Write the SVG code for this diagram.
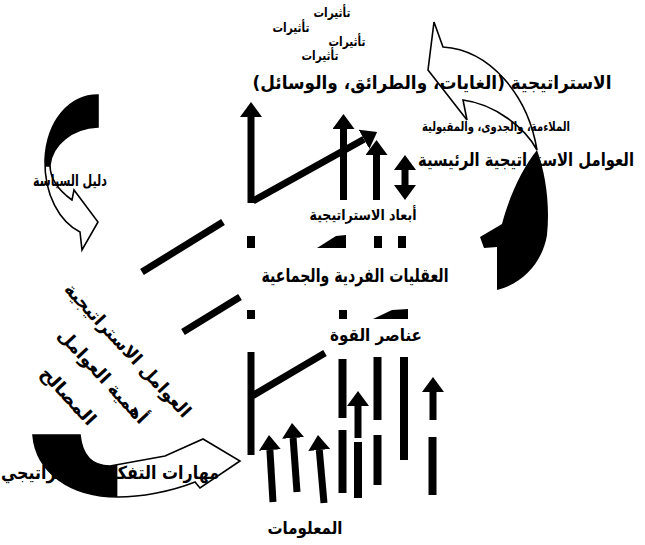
<svg xmlns="http://www.w3.org/2000/svg" width="645" height="545" viewBox="0 0 645 545">
<defs>
<style>
.t{font-family:'DejaVu Sans','Noto Sans',sans-serif;font-weight:bold;fill:#000;direction:rtl;text-anchor:middle}
.sh{stroke:#000;stroke-width:7;fill:none;stroke-linecap:butt}
.bar{stroke:#000;stroke-width:8;fill:none}
.blk{fill:#000}
.carrow{stroke:#000;stroke-width:1.6;stroke-linejoin:miter}
</style>
<marker id="ah" viewBox="0 -11 16 22" refX="0" refY="0" markerWidth="16" markerHeight="22" markerUnits="userSpaceOnUse" orient="auto-start-reverse">
<path d="M0,-11 L15,0 L0,11 Z" fill="#000"/>
</marker>
<linearGradient id="gLeft" gradientUnits="userSpaceOnUse" x1="0" y1="95" x2="0" y2="250">
<stop offset="0" stop-color="#000"/><stop offset="0.46" stop-color="#000"/><stop offset="0.465" stop-color="#fff"/><stop offset="1" stop-color="#fff"/>
</linearGradient>
<linearGradient id="gBottom" gradientUnits="userSpaceOnUse" x1="33" y1="0" x2="240" y2="0">
<stop offset="0" stop-color="#000"/><stop offset="0.405" stop-color="#000"/><stop offset="0.41" stop-color="#fff"/><stop offset="1" stop-color="#fff"/>
</linearGradient>
</defs>
<rect width="645" height="545" fill="#fff"/>

<g id="curved-arrow-right">
<path class="carrow" fill="#fff" d="M434,22 L443,47 C490,50 528,95 537,150 C525,128 495,104 463,100 L467,120 L428,70 Z"/>
<path class="blk" d="M537,150 C546,175 550,205 547,235 C543,260 525,283 497,290 L497,247 L484,248 L480,237 L502,224 C508,200 522,168 537,150 Z"/>
</g>

<g id="curved-arrow-left">
<path class="carrow" fill="url(#gLeft)" d="M98,95 C70,95 47,120 45,160 C44,195 60,222 80,232 L82,250 L98,222 L74,190 L72,200 C58,190 50,178 50,165 C52,145 72,128 98,127 Z"/>
</g>

<g id="curved-arrow-bottom">
<path class="carrow" fill="url(#gBottom)" d="M33,435 L80,435 C82,455 92,466 110,466 L165,456 L203,439 L240,461 L200,488 L195,482 C170,492 140,497 118,497 C70,497 36,472 33,435 Z"/>
</g>

<g id="connectors">
<line class="sh" x1="251" y1="203" x2="251" y2="117" marker-end="url(#ah)"/>
<line class="sh" x1="253" y1="201" x2="364" y2="139.3" marker-end="url(#ah)"/>
<line class="sh" x1="343.5" y1="200" x2="343.5" y2="129" marker-end="url(#ah)"/>
<line class="sh" x1="376.5" y1="200" x2="376.5" y2="155" marker-end="url(#ah)"/>
<line class="sh" x1="405" y1="185" x2="405" y2="170" marker-start="url(#ah)" marker-end="url(#ah)"/>

<line class="sh" x1="142" y1="272" x2="223" y2="222"/>
<line class="sh" x1="183" y1="332" x2="240" y2="297"/>

<rect class="blk" x="247" y="236" width="8" height="12"/>
<polygon class="blk" points="317,248 336,236 346,235 346,248"/>
<rect class="blk" x="374" y="236" width="8" height="12"/>
<rect class="blk" x="398" y="236" width="8" height="12"/>

<rect class="blk" x="247" y="310" width="8" height="9"/>
<rect class="blk" x="339" y="310" width="8" height="9"/>
<polygon class="blk" points="373,319 392,310 408,309 408,319"/>

<line class="sh" x1="251" y1="352" x2="251" y2="455"/>
<line class="sh" x1="252" y1="396" x2="325" y2="353"/>
<line class="bar" x1="342.5" y1="359" x2="342.5" y2="418"/>
<line class="bar" x1="342.5" y1="430" x2="342.5" y2="493"/>
<line class="bar" x1="377.5" y1="357" x2="377.5" y2="420"/>
<line class="bar" x1="377.5" y1="435" x2="377.5" y2="485"/>
<line class="bar" x1="404" y1="357" x2="404" y2="460"/>
<line class="bar" x1="432.5" y1="437" x2="432.5" y2="495"/>
<line class="bar" x1="358" y1="442" x2="358" y2="498"/>

<line class="sh" x1="273" y1="502" x2="269.9" y2="450" marker-end="url(#ah)"/>
<line class="sh" x1="297" y1="492" x2="293.1" y2="438" marker-end="url(#ah)"/>
<line class="sh" x1="324" y1="503" x2="319.3" y2="450" marker-end="url(#ah)"/>
<line class="sh" x1="358" y1="438" x2="358" y2="406" marker-end="url(#ah)"/>
<line class="sh" x1="433" y1="420" x2="433" y2="392" marker-end="url(#ah)"/>
</g>

<g id="label-effects">
<text class="t" x="332" y="17" font-size="13" textLength="37" lengthAdjust="spacingAndGlyphs">تأثيرات</text>
<text class="t" x="291" y="32" font-size="13" textLength="37" lengthAdjust="spacingAndGlyphs">تأثيرات</text>
<text class="t" x="347" y="46" font-size="13" textLength="37" lengthAdjust="spacingAndGlyphs">تأثيرات</text>
<text class="t" x="320" y="60" font-size="13" textLength="37" lengthAdjust="spacingAndGlyphs">تأثيرات</text>
</g>
<g id="label-strategy">
<text class="t" x="432" y="89" font-size="18" textLength="359" lengthAdjust="spacingAndGlyphs">الاستراتيجية (الغايات، والطرائق، والوسائل)</text>
</g>
<g id="label-criteria">
<text class="t" x="496" y="131" font-size="13" textLength="148" lengthAdjust="spacingAndGlyphs">الملاءمة، والجدوى، والمقبولية</text>
</g>
<g id="label-key-factors">
<text class="t" x="526" y="166" font-size="18" textLength="216" lengthAdjust="spacingAndGlyphs">العوامل الاستراتيجية الرئيسية</text>
</g>
<g id="label-policy-guide">
<text class="t" x="70" y="186" font-size="16" textLength="74" lengthAdjust="spacingAndGlyphs">دليل السياسة</text>
</g>
<g id="label-dimensions">
<text class="t" x="363" y="220" font-size="15" textLength="107" lengthAdjust="spacingAndGlyphs">أبعاد الاستراتيجية</text>
</g>
<g id="label-mindsets">
<text class="t" x="355" y="282" font-size="19" textLength="187" lengthAdjust="spacingAndGlyphs">العقليات الفردية والجماعية</text>
</g>
<g id="label-power">
<text class="t" x="376" y="341" font-size="17" textLength="92" lengthAdjust="spacingAndGlyphs">عناصر القوة</text>
</g>
<g id="label-info">
<text class="t" x="305" y="534" font-size="17" textLength="75" lengthAdjust="spacingAndGlyphs">المعلومات</text>
</g>
<g id="label-thinking">
<text class="t" x="110" y="479" font-size="18" textLength="218" lengthAdjust="spacingAndGlyphs">مهارات التفكير الاستراتيجي</text>
</g>
<g id="label-rotated" transform="translate(127,351) rotate(47)">
<text class="t" x="0" y="5" font-size="18" textLength="176" lengthAdjust="spacingAndGlyphs">العوامل الاستراتيجية</text>
<text class="t" x="2" y="41" font-size="18" textLength="122" lengthAdjust="spacingAndGlyphs">أهمية العوامل</text>
<text class="t" x="-7" y="80" font-size="18" textLength="72" lengthAdjust="spacingAndGlyphs">المصالح</text>
</g>
</svg>
